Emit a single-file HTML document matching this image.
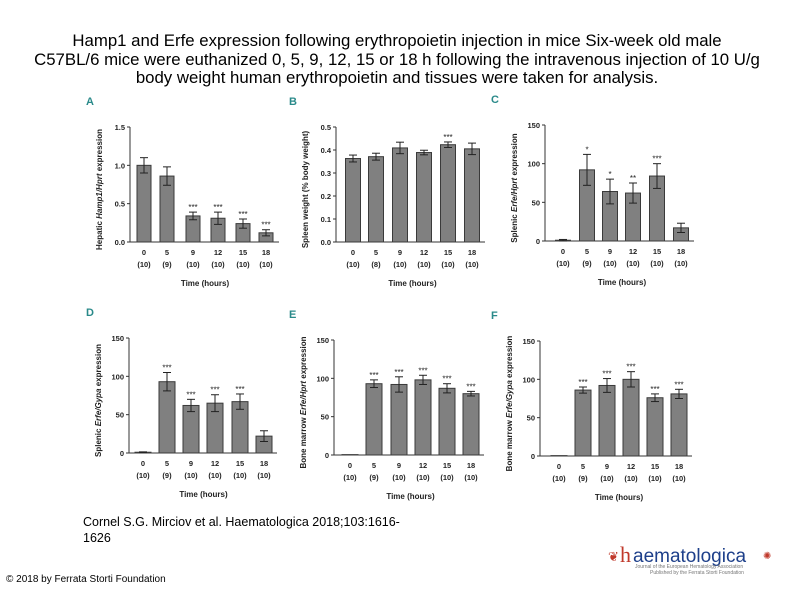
<!DOCTYPE html>
<html><head><meta charset="utf-8">
<style>
body{margin:0;background:#fff;width:794px;height:595px;overflow:hidden;font-family:"Liberation Sans",sans-serif;}
#title{position:absolute;left:0;top:32px;width:794px;text-align:center;font-size:16.8px;line-height:18.5px;color:#000;white-space:nowrap;}
#cite{position:absolute;left:83px;top:514px;font-size:12.5px;line-height:16px;color:#000;}
#copy{position:absolute;left:6px;top:574px;font-size:10px;color:#000;}
svg{position:absolute;left:0;top:0;}
</style></head><body>
<div id="title">Hamp1 and Erfe expression following erythropoietin injection in mice Six-week old male<br>C57BL/6 mice were euthanized 0, 5, 9, 12, 15 or 18 h following the intravenous injection of 10 U/g<br>body weight human erythropoietin and tissues were taken for analysis.</div>
<svg id="chart" width="794" height="595"></svg>
<div id="cite">Cornel S.G. Mirciov et al. Haematologica 2018;103:1616-<br>1626</div>
<div id="copy">© 2018 by Ferrata Storti Foundation</div>
<svg width="794" height="595" style="pointer-events:none">
<text x="608" y="561" font-family="Liberation Sans,sans-serif" font-size="13" fill="#c0392b">❦</text>
<text x="620" y="562" font-family="Liberation Serif,serif" font-size="22" fill="#c0392b">h</text>
<text x="633" y="562" font-family="Liberation Sans,sans-serif" font-size="19" fill="#1d3f8a">aematologica</text>
<text x="763" y="559" font-family="Liberation Sans,sans-serif" font-size="10" fill="#c0392b">✺</text>
<text x="635" y="568" font-family="Liberation Sans,sans-serif" font-size="5" fill="#777">Journal of the European Hematology Association</text>
<text x="650" y="574" font-family="Liberation Sans,sans-serif" font-size="5" fill="#777">Published by the Ferrata Storti Foundation</text>
</svg>
<script>
const categories=["0","5","9","12","15","18"];
const nA=["(10)","(9)","(10)","(10)","(10)","(10)"];
const nB=["(10)","(8)","(10)","(10)","(10)","(10)"];
const nC=["(10)","(9)","(10)","(10)","(10)","(10)"];
const valsA=[1.0,0.86,0.34,0.31,0.24,0.12];
const errA=[0.1,0.12,0.05,0.08,0.06,0.04];
const starsA=["","","***","***","***","***"];
const valsB=[0.363,0.371,0.409,0.389,0.423,0.405];
const errB=[0.015,0.015,0.025,0.01,0.012,0.025];
const starsB=["","","","","***",""];
const valsC=[1,92,64,62,84,17];
const errC=[1,20,16,13,16,6];
const starsC=["","*","*","**","***",""];
const valsD=[1,93,62,65,67,22];
const errD=[0.5,12,8,11,10,7];
const starsD=["","***","***","***","***",""];
const valsE=[0.5,93,92,98,87,80];
const errE=[0,5,10,6,6,3];
const starsE=["","***","***","***","***","***"];
const valsF=[0.5,86,92,100,76,81];
const errF=[0,4,9,10,5,6];
const starsF=["","***","***","***","***","***"];
const ticksA=[0,0.5,1.0,1.5], tickLabA=["0.0","0.5","1.0","1.5"];
const ticksB=[0,0.1,0.2,0.3,0.4,0.5], tickLabB=["0.0","0.1","0.2","0.3","0.4","0.5"];
const ticksK=[0,50,100,150], tickLabK=["0","50","100","150"];

const NS="http://www.w3.org/2000/svg";
const svg=document.getElementById('chart');
function mk(tag,attrs,parent){const e=document.createElementNS(NS,tag);for(const k in attrs)e.setAttribute(k,attrs[k]);(parent||svg).appendChild(e);return e;}
function txt(s,x,y,size,parent,extra){const t=mk('text',Object.assign({x:x,y:y,'font-size':size,'font-family':'Liberation Sans,sans-serif','text-anchor':'middle',fill:'#222'},extra||{}),parent);t.textContent=s;return t;}

function panel(p){
  const g=mk('g',{});
  
  
  const y=v=>p.y0-(v/p.max)*(p.y0-p.yTop);
  const pl=txt(p.letter,p.letterX,p.yTop-22,11,g,{'font-weight':'bold',fill:'#2a8a8a','text-anchor':'start'});
  
  
  const ax=mk('line',{x1:p.ax,y1:p.yTop,x2:p.ax,y2:p.y0,stroke:'#333','stroke-width':1},g);
  
  
  const xa=mk('line',{x1:p.ax,y1:p.y0,x2:p.centers[5]+13,y2:p.y0,stroke:'#333','stroke-width':1},g);
  
  
  p.ticks.forEach((t,i)=>{
    mk('line',{x1:p.ax-3,y1:y(t),x2:p.ax,y2:y(t),stroke:'#333'},g);
    const tl=txt(p.tickLab[i],p.ax-5,y(t)+3,7.5,g,{'text-anchor':'end','font-weight':'bold'});
    
    
  });
  p.vals.forEach((v,i)=>{
    const c=p.centers[i],w=p.bw;
    const r=mk('rect',{x:c-w/2,y:y(v),width:w,height:p.y0-y(v),fill:'#808080',stroke:'#3a3a3a','stroke-width':1},g);
    
    
    if(p.err[i]>0){
      const e1=y(v+p.err[i]),e2=y(Math.max(0,v-p.err[i]));
      mk('line',{x1:c,y1:e1,x2:c,y2:e2,stroke:'#222'},g);
      mk('line',{x1:c-4,y1:e1,x2:c+4,y2:e1,stroke:'#222'},g);
      mk('line',{x1:c-4,y1:e2,x2:c+4,y2:e2,stroke:'#222'},g);
    }
    if(p.stars[i]){
      const s=txt(p.stars[i],c,y(v+p.err[i])-2,8,g);
      
      
    }
    const cl=txt(categories[i],c,p.y0+13,7.5,g,{'font-weight':'bold'});
    
    
    const nl=txt(p.n[i],c,p.y0+25,7.5,g,{'font-weight':'bold'});
    
    
  });
  const xt=txt('Time (hours)',(p.centers[0]+p.centers[5])/2,p.y0+44,8,g,{'font-weight':'bold'});
  
  
  const yx=p.ax-28,ym=(p.yTop+p.y0)/2+5;
  const yt=mk('text',{x:yx,y:ym,'font-size':8,'font-weight':'bold','font-family':'Liberation Sans,sans-serif','text-anchor':'middle',fill:'#222',transform:`rotate(-90 ${yx} ${ym})`},g);
  
  
  p.ylab.forEach(part=>{const s=mk('tspan',part[1]?{'font-style':'italic'}:{},yt);s.textContent=part[0];});
}

panel({letter:'A',letterX:86,ax:130,yTop:127,y0:242,max:1.5,ticks:ticksA,tickLab:tickLabA,centers:[144,167,193,218,243,266],bw:14,vals:valsA,err:errA,stars:starsA,n:nA,ylab:[['Hepatic '],['Hamp1/Hprt',1],[' expression']]});
panel({letter:'B',letterX:289,ax:336,yTop:127,y0:242,max:0.5,ticks:ticksB,tickLab:tickLabB,centers:[353,376,400,424,448,472],bw:15,vals:valsB,err:errB,stars:starsB,n:nB,ylab:[['Spleen weight (% body weight)']]});
panel({letter:'C',letterX:491,ax:545,yTop:125,y0:241,max:150,ticks:ticksK,tickLab:tickLabK,centers:[563,587,610,633,657,681],bw:15,vals:valsC,err:errC,stars:starsC,n:nC,ylab:[['Splenic '],['Erfe/Hprt',1],[' expression']]});
panel({letter:'D',letterX:86,ax:129,yTop:338,y0:453,max:150,ticks:ticksK,tickLab:tickLabK,centers:[143,167,191,215,240,264],bw:16,vals:valsD,err:errD,stars:starsD,n:nC,ylab:[['Splenic '],['Erfe/Gypa',1],[' expression']]});
panel({letter:'E',letterX:289,ax:334,yTop:340,y0:455,max:150,ticks:ticksK,tickLab:tickLabK,centers:[350,374,399,423,447,471],bw:16,vals:valsE,err:errE,stars:starsE,n:nC,ylab:[['Bone marrow '],['Erfe/Hprt',1],[' expression']]});
panel({letter:'F',letterX:491,ax:540,yTop:341,y0:456,max:150,ticks:ticksK,tickLab:tickLabK,centers:[559,583,607,631,655,679],bw:16,vals:valsF,err:errF,stars:starsF,n:nC,ylab:[['Bone marrow '],['Erfe/Gypa',1],[' expression']]});
</script>
</body></html>
